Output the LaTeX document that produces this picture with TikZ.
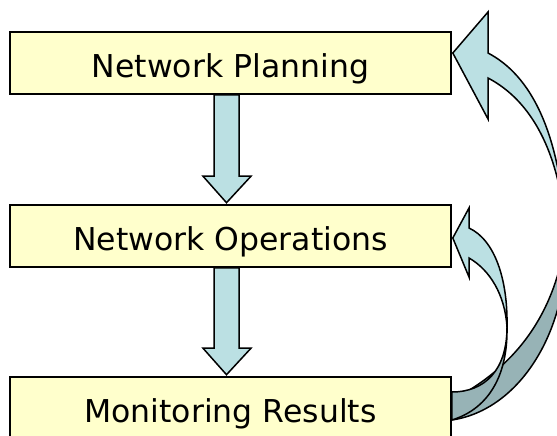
\documentclass[tikz,border=0pt]{standalone}
\usepackage{fontspec}
\setmainfont{DejaVu Sans}
\usetikzlibrary{calc}
\definecolor{boxyellow}{HTML}{FFFFCC}
\definecolor{arrowblue}{HTML}{BBE0E3}
\definecolor{arrowshade}{HTML}{97B3B6}

\begin{document}
\begin{tikzpicture}[x=1pt, y=-1pt,
  stage/.style={draw, line width=1.6pt, fill=boxyellow, minimum width=441pt, minimum height=62pt,
    inner sep=0pt, text height=29pt, text depth=0pt, font=\fontsize{31.5}{36}\selectfont},
  front/.style={draw, line width=1.5pt, fill=arrowblue},
  back/.style={draw, line width=1.5pt, fill=arrowshade}]
\useasboundingbox (0,0) rectangle (557,436);
\clip (0,0) rectangle (557,436);
\node[stage] (plan) at (230.5,63) {Network Planning};
\node[stage] (oper) at (230.5,236) {Network Operations};
\node[stage] (mon) at (230.5,408) {Monitoring Results};
\foreach \a/\b in {plan/oper,oper/mon} {
 \draw[front] ($(\a.south)+(-16.5,0)$) -- ($(\b.north)+(-16.5,-28)$) --++(-11,0)
   -- ($(\b.north)+(-4,-1.5)$) -- ($(\b.north)+(20.5,-28)$) --++(-12,0) -- ($(\a.south)+(8.5,0)$) -- cycle;
}
% feedback arrows, ends on the boxes
\coordinate (bigtip) at ($(plan.east)+(1,-10)$);
\coordinate (bigtail) at ($(mon.east)+(0,12)$);
\coordinate (smalltip) at ($(oper.east)+(1,2)$);
\coordinate (smalltail) at ($(mon.east)+(0,-16)$);
% long one, back side first
\draw[back] (566,235) .. controls (570,330) and (520,410) .. (bigtail) -- ($(bigtail)+(0,-20)$)
  .. controls (510,370) and (555,320) .. (566,235);
\draw[front] (bigtip) -- (488,12) -- (488,53) .. controls (530,75) and (560,130) .. (566,235)
  .. controls (560,150) and (530,100) .. (488,78) -- (488,119) -- cycle;
% short one
\draw[back] (507,327) .. controls (507,370) and (485,392) .. (smalltail) -- (bigtail)
  .. controls (485,410) and (508,380) .. (507,327);
\draw[front] (smalltip) -- (469,208) -- (469,228) .. controls (495,240) and (508,280) .. (507,327)
  .. controls (505,295) and (490,270) .. (469,258) -- (469,277) -- cycle;
\end{tikzpicture}
\end{document}
